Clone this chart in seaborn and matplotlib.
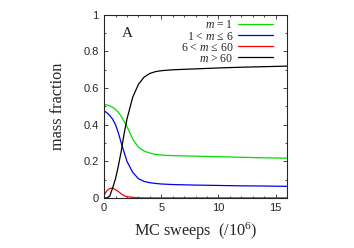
import numpy as np
import pandas as pd
import seaborn as sns
import matplotlib
matplotlib.use("Agg")
import matplotlib.pyplot as plt
from matplotlib.ticker import MultipleLocator

# MC sweeps (/10^6)
sweeps = [0, 0.25, 0.5, 0.75, 1, 1.25, 1.5, 1.75, 2, 2.5, 3, 3.5, 4, 4.5, 5,
          6, 8, 10, 12, 14, 16]

# mass fraction per cluster-size class
m1 = [0.511, 0.508, 0.503, 0.495, 0.484, 0.468, 0.446, 0.418, 0.39, 0.322, 0.277,
      0.256, 0.245, 0.238, 0.234, 0.231, 0.228, 0.225, 0.222, 0.219, 0.217]
m1_6 = [0.476, 0.465, 0.45, 0.43, 0.40, 0.355, 0.30, 0.25, 0.20, 0.14, 0.105,
        0.09, 0.083, 0.079, 0.076, 0.073, 0.07, 0.068, 0.066, 0.065, 0.063]
m6_60 = [0.014, 0.04, 0.052, 0.053, 0.045, 0.035, 0.022, 0.012, 0.007, 0.003,
         0.001, 0, 0, 0, 0, 0, 0, 0, 0, 0, 0]
m60 = [0, 0, 0.01, 0.055, 0.105, 0.175, 0.255, 0.35, 0.43, 0.55, 0.62, 0.66,
       0.68, 0.69, 0.695, 0.70, 0.705, 0.71, 0.714, 0.717, 0.72]

labels = ['$m$ = 1', '1 < $m$ ≤ 6', '6 < $m$ ≤ 60', '$m$ > 60']
colors = ['#00dd00', '#0000ee', '#ff0000', '#000000']

df = pd.concat([
    pd.DataFrame({'x': sweeps, 'y': vals, 'cls': lab})
    for vals, lab in zip([m1, m1_6, m6_60, m60], labels)
])

sns.set_style("ticks")
plt.rcParams['font.family'] = ['Liberation Sans', 'DejaVu Sans']
plt.rcParams['mathtext.fontset'] = 'custom'
plt.rcParams['mathtext.rm'] = 'Liberation Serif'
plt.rcParams['mathtext.it'] = 'Liberation Serif:italic'

fig = plt.figure(figsize=(3.54, 2.48), dpi=100)
ax = fig.add_axes([0.294, 0.202, 0.517, 0.738])

sns.lineplot(data=df, x='x', y='y', hue='cls', palette=colors,
             linewidth=0.9, ax=ax)

ax.set_xlim(0, 16)
ax.set_ylim(0, 1)
ax.xaxis.set_major_locator(MultipleLocator(5))
ax.xaxis.set_minor_locator(MultipleLocator(1))
ax.yaxis.set_minor_locator(MultipleLocator(0.1))
ax.set_yticks([0, 0.2, 0.4, 0.6, 0.8, 1.0])
ax.set_yticklabels(['0', '0.2', '0.4', '0.6', '0.8', '1'])
ax.tick_params(which='both', direction='in', top=True, right=True,
               labelsize=8, width=0.6, pad=4)
ax.tick_params(which='major', length=3)
ax.tick_params(which='minor', length=1.5)
for s in ax.spines.values():
    s.set_linewidth(0.8)

ax.set_xlabel('MC sweeps  (/10$^6$)', family='Liberation Serif', fontsize=11.7,
              labelpad=5)
ax.set_ylabel('mass fraction', family='Liberation Serif', fontsize=11.7,
              labelpad=12)

ax.text(0.098, 0.90, 'A', transform=ax.transAxes, family='Liberation Serif',
        fontsize=11, va='center', ha='left')

leg = ax.legend(loc='upper right', bbox_to_anchor=(0.923, 0.975), frameon=False,
                markerfirst=False, handlelength=3.0, labelspacing=-0.08,
                handletextpad=0.35, borderaxespad=0, borderpad=0,
                prop={'family': 'Liberation Serif', 'size': 8.5})

fig.savefig('out.png', dpi=100)
